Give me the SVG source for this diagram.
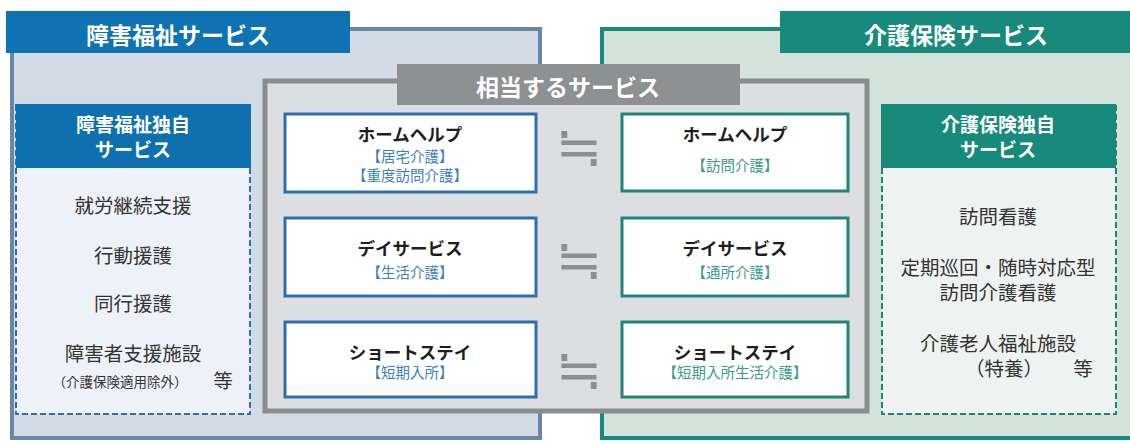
<svg xmlns="http://www.w3.org/2000/svg" width="1130" height="441" viewBox="0 0 1130 441">
<style>
text{font-family:"Noto Sans CJK JP","Noto Sans",sans-serif;text-anchor:middle}
.hdr{fill:#fff;font-weight:bold;font-size:23px}
.subhdr{fill:#fff;font-weight:bold;font-size:19px}
.item{fill:#333;font-size:19.5px}
.small{fill:#333;font-size:13.5px}
.title{fill:#1e1e1e;font-weight:bold;font-size:17.5px}
.subL{fill:#3c7fc2;font-size:14.5px}
.subR{fill:#3a9a8c;font-size:14.5px}
.boxL{fill:#fff;stroke:#2d6fae;stroke-width:3}
.boxR{fill:#fff;stroke:#1f8576;stroke-width:3}
.eq{fill:#8c8e90;font-family:"DejaVu Sans",sans-serif;font-size:56px}
</style>
<rect width="1130" height="441" fill="#fff"/>
<g id="welfare">
<rect x="12" y="29" width="528" height="409" fill="#d3dbe7" stroke="#6a85aa" stroke-width="4"/>
<rect x="6" y="11" width="344" height="42" fill="#0f72b2"/>
<text class="hdr" x="178" y="44">障害福祉サービス</text>
</g>
<g id="care">
<rect x="602" y="29" width="540" height="409" fill="#d3e3dc" stroke="#178a7b" stroke-width="4"/>
<rect x="780" y="11" width="350" height="42" fill="#178a7b"/>
<text class="hdr" x="956" y="44">介護保険サービス</text>
</g>
<g id="welfare-own">
<rect x="16" y="105" width="234" height="309" fill="#eef2f8" stroke="#2d6fae" stroke-width="2" stroke-dasharray="6,3"/>
<rect x="16" y="104" width="235" height="64" fill="#0f70b0"/>
<text class="subhdr" x="133" y="132">障害福祉独自</text>
<text class="subhdr" x="133" y="157">サービス</text>
<text class="item" x="133" y="213">就労継続支援</text>
<text class="item" x="133" y="263">行動援護</text>
<text class="item" x="133" y="311">同行援護</text>
<text class="item" x="133" y="361">障害者支援施設</text>
<text class="small" x="120" y="387">（介護保険適用除外）</text>
<text class="item" x="223" y="388">等</text>
</g>
<g id="care-own">
<rect x="882" y="105" width="234" height="309" fill="#eef3f2" stroke="#1f8576" stroke-width="2" stroke-dasharray="6,3"/>
<rect x="881" y="104" width="235" height="64" fill="#178a7b"/>
<text class="subhdr" x="998" y="132">介護保険独自</text>
<text class="subhdr" x="998" y="157">サービス</text>
<text class="item" x="998" y="224">訪問看護</text>
<text class="item" x="998" y="275">定期巡回・随時対応型</text>
<text class="item" x="998" y="300">訪問介護看護</text>
<text class="item" x="998" y="351">介護老人福祉施設</text>
<text class="item" x="1004" y="376">（特養）</text>
<text class="item" x="1083" y="376">等</text>
</g>
<g id="equivalent">
<rect x="265" y="81" width="602" height="330" fill="#dcdee1" stroke="#8a8c8e" stroke-width="5"/>
<rect x="397" y="64" width="343" height="41" fill="#8e9092"/>
<text class="hdr" x="568" y="96">相当するサービス</text>
</g>
<g id="homehelp-l">
<rect class="boxL" x="285" y="114" width="251" height="78"/>
<text class="title" x="410" y="141">ホームヘルプ</text>
<text class="subL" x="410" y="162">【居宅介護】</text>
<text class="subL" x="410" y="181">【重度訪問介護】</text>
</g>
<g id="homehelp-r">
<rect class="boxR" x="622" y="114" width="226" height="77"/>
<text class="title" x="735" y="141">ホームヘルプ</text>
<text class="subR" x="735" y="171">【訪問介護】</text>
</g>
<g id="day-l">
<rect class="boxL" x="285" y="218" width="251" height="78"/>
<text class="title" x="410" y="255">デイサービス</text>
<text class="subL" x="410" y="278">【生活介護】</text>
</g>
<g id="day-r">
<rect class="boxR" x="622" y="218" width="226" height="78"/>
<text class="title" x="735" y="255">デイサービス</text>
<text class="subR" x="735" y="278">【通所介護】</text>
</g>
<g id="short-l">
<rect class="boxL" x="285" y="322" width="251" height="75"/>
<text class="title" x="410" y="359">ショートステイ</text>
<text class="subL" x="410" y="378">【短期入所】</text>
</g>
<g id="short-r">
<rect class="boxR" x="622" y="322" width="226" height="75"/>
<text class="title" x="735" y="359">ショートステイ</text>
<text class="subR" x="735" y="378">【短期入所生活介護】</text>
</g>
<g id="connectors">
<text class="eq" x="579" y="166">≒</text>
<text class="eq" x="579" y="279">≒</text>
<text class="eq" x="579" y="389">≒</text>
</g>
</svg>
